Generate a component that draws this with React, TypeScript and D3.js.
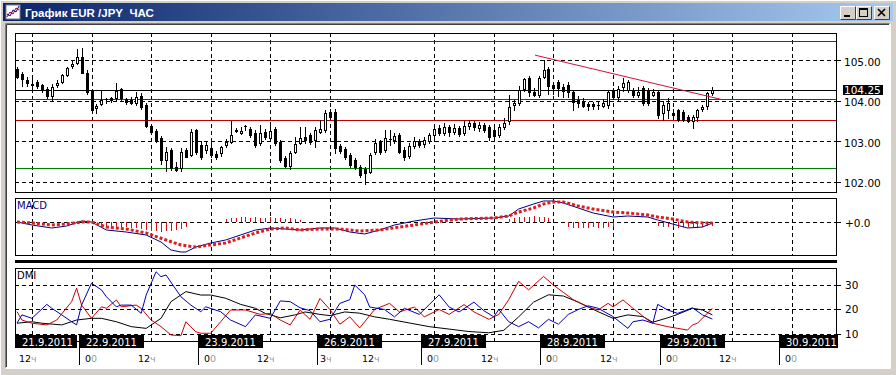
import React from 'react'
import * as d3 from 'd3'

// EUR/JPY, H1 bars from 21.9.2011 09:00 to 29.9.2011 08:00 (weekend skipped)
const opens = [
  104.78, 104.66, 104.5, 104.41, 104.46, 104.38, 104.28, 104.11, 104.38, 104.46,
  104.63, 104.85, 104.92, 105.08, 104.69, 104.24, 103.81, 103.91, 104.03, 104.06,
  104.06, 104.28, 104.04, 104.01, 103.95, 104.11, 103.89, 103.37, 103.25, 103.07,
  102.53, 102.78, 102.37, 102.33, 102.78, 102.65, 103.27, 102.9, 102.78, 102.83,
  102.68, 102.7, 102.9, 102.98, 103.27, 103.2, 103.37, 103.3, 103.2, 102.95,
  103.23, 103.07, 103.3, 102.98, 102.58, 102.38, 102.72, 102.96, 103.1, 103.15,
  103.02, 103.22, 103.27, 103.72, 103.72, 102.88, 102.8, 102.65, 102.53, 102.36,
  102.3, 102.24, 102.73, 102.98, 102.78, 103.05, 103.03, 103.15, 102.78, 102.62,
  102.88, 103.0, 102.92, 103.0, 103.15, 103.32, 103.2, 103.35, 103.22, 103.32,
  103.2, 103.38, 103.45, 103.32, 103.4, 103.35, 103.27, 103.15, 103.35, 103.5,
  103.89, 103.94, 104.28, 104.56, 104.22, 104.14, 104.59, 104.78, 104.38, 104.46,
  104.33, 104.38, 104.22, 104.01, 103.97, 103.91, 103.92, 103.88, 103.87, 103.89,
  104.26, 104.09, 104.33, 104.26, 104.26, 104.14, 104.31, 104.26, 104.14, 104.22,
  103.69, 103.77, 103.7, 103.77, 103.72, 103.6, 103.5, 103.6, 103.79, 103.86,
  104.18,
]
const highs = [
  104.82, 104.7, 104.58, 104.56, 104.51, 104.41, 104.33, 104.41, 104.51, 104.66,
  104.83, 105.0, 105.27, 105.3, 104.75, 104.26, 103.91, 104.26, 104.06, 104.08,
  104.44, 104.31, 104.06, 104.08, 104.22, 104.18, 103.94, 103.4, 103.3, 103.12,
  102.86, 102.83, 102.48, 102.83, 102.83, 103.3, 103.3, 103.0, 103.0, 103.02,
  102.75, 102.88, 103.05, 103.5, 103.32, 103.35, 103.4, 103.35, 103.27, 103.4,
  103.3, 103.47, 103.35, 103.02, 102.62, 102.75, 103.1, 103.35, 103.35, 103.2,
  103.35, 103.52, 103.77, 103.8, 103.8, 102.93, 102.86, 102.7, 102.58, 102.4,
  102.36, 102.7, 103.05, 103.02, 103.27, 103.27, 103.2, 103.2, 102.85, 102.95,
  103.1, 103.05, 103.1, 103.2, 103.38, 103.4, 103.45, 103.4, 103.42, 103.38,
  103.5, 103.52, 103.5, 103.47, 103.45, 103.4, 103.32, 103.42, 103.57, 104.14,
  104.01, 104.36, 104.56, 104.6, 104.31, 104.6, 105.0, 104.82, 104.46, 104.51,
  104.4, 104.45, 104.26, 104.1, 104.05, 103.97, 103.97, 103.99, 104.04, 104.27,
  104.3, 104.36, 104.55, 104.5, 104.3, 104.33, 104.36, 104.31, 104.28, 104.26,
  103.99, 104.05, 103.78, 103.8, 103.77, 103.65, 103.65, 103.8, 103.89, 104.22,
  104.34,
]
const lows = [
  104.55, 104.36, 104.36, 104.26, 104.31, 104.21, 104.06, 104.01, 104.33, 104.43,
  104.6, 104.8, 104.9, 104.67, 104.15, 103.69, 103.69, 103.88, 103.94, 103.97,
  104.01, 104.01, 103.92, 103.92, 103.9, 103.8, 103.35, 103.2, 102.98, 102.43,
  102.27, 102.28, 102.25, 102.27, 102.6, 102.62, 102.68, 102.55, 102.7, 102.6,
  102.55, 102.62, 102.85, 102.96, 103.22, 103.18, 103.27, 103.1, 102.85, 102.9,
  103.05, 103.02, 102.9, 102.48, 102.35, 102.32, 102.7, 102.93, 102.96, 102.93,
  102.85, 103.2, 103.22, 103.55, 102.7, 102.7, 102.55, 102.35, 102.3, 102.12,
  101.94, 102.2, 102.68, 102.68, 102.73, 102.9, 102.96, 102.7, 102.52, 102.58,
  102.82, 102.85, 102.86, 102.95, 103.1, 103.15, 103.15, 103.12, 103.18, 103.12,
  103.15, 103.3, 103.28, 103.25, 103.22, 103.02, 103.07, 103.1, 103.3, 103.42,
  103.77, 103.9, 104.23, 104.11, 104.11, 104.08, 104.55, 104.16, 104.16, 104.11,
  104.08, 104.08, 103.77, 103.85, 103.83, 103.77, 103.79, 103.8, 103.84, 103.82,
  104.04, 103.99, 104.24, 104.22, 104.09, 104.09, 103.89, 103.88, 104.1, 103.56,
  103.52, 103.58, 103.62, 103.5, 103.5, 103.47, 103.32, 103.5, 103.74, 103.8,
  104.13,
]
const closes = [
  104.58, 104.53, 104.43, 104.38, 104.36, 104.26, 104.11, 104.34, 104.44, 104.63,
  104.8, 104.9, 105.08, 104.69, 104.22, 103.77, 103.86, 104.01, 104.04, 104.01,
  104.24, 104.06, 103.97, 103.95, 104.09, 103.85, 103.37, 103.23, 103.02, 102.53,
  102.74, 102.33, 102.28, 102.74, 102.61, 103.23, 102.74, 102.6, 102.9, 102.65,
  102.6, 102.86, 102.98, 103.15, 103.25, 103.25, 103.38, 103.15, 102.9, 103.2,
  103.1, 103.25, 102.95, 102.53, 102.38, 102.7, 102.93, 103.07, 103.02, 102.98,
  103.27, 103.29, 103.7, 103.6, 102.83, 102.75, 102.61, 102.41, 102.36, 102.16,
  102.2, 102.65, 102.95, 102.73, 103.07, 103.06, 103.12, 102.74, 102.6, 102.88,
  103.0, 102.9, 103.02, 103.15, 103.3, 103.2, 103.35, 103.22, 103.32, 103.18,
  103.38, 103.45, 103.35, 103.4, 103.27, 103.1, 103.12, 103.35, 103.45, 103.84,
  103.95, 104.26, 104.53, 104.22, 104.14, 104.56, 104.75, 104.36, 104.31, 104.31,
  104.24, 104.22, 103.97, 103.94, 103.86, 103.87, 103.86, 103.9, 103.93, 104.22,
  104.09, 104.28, 104.43, 104.46, 104.14, 104.22, 103.94, 103.95, 104.2, 103.64,
  103.89, 103.94, 103.64, 103.52, 103.52, 103.5, 103.6, 103.77, 103.85, 104.19,
  104.26,
]

// horizontal levels drawn on the chart
const redLevels = [105.46, 104.03, 103.52]
const greenLevels = [102.33]
const bidPrice = 104.25
const trendLine: [number, number][] = [[104.3, 105.12], [142, 104.02]]
const priceTicks = [102, 103, 104, 105]

// MACD [bar, value]
const macdMain: [number, number][] = [
  [0, 0], [3, -0.03], [7, -0.06], [10, -0.04], [13, 0.01], [15, 0], [18, -0.08], [22, -0.1],
  [26, -0.13], [29, -0.2], [31, -0.28], [33, -0.3], [34, -0.3], [36, -0.25], [39, -0.21],
  [42, -0.18], [45, -0.13], [48, -0.08], [51, -0.06], [54, -0.07], [57, -0.08], [61, -0.06],
  [64, -0.06], [67, -0.1], [70, -0.12], [73, -0.08], [76, -0.03], [80, 0.01], [84, 0.04],
  [89, 0.03], [96, 0.04], [99, 0.06], [101, 0.13], [104, 0.18], [106, 0.21], [108, 0.21],
  [110, 0.19], [113, 0.14], [116, 0.09], [120, 0.05], [123, 0.06], [127, 0.05], [129, 0.02],
  [132, -0.02], [135, -0.06], [138, -0.05], [140, -0.01],
]
const macdSignal: [number, number][] = [
  [0, 0], [3, -0.01], [7, -0.03], [10, -0.02], [13, 0], [15, 0], [18, -0.05], [22, -0.07],
  [26, -0.11], [30, -0.18], [33, -0.23], [36, -0.25], [39, -0.23], [42, -0.21], [45, -0.16],
  [48, -0.11], [51, -0.07], [54, -0.06], [57, -0.08], [61, -0.07], [65, -0.07], [69, -0.09],
  [73, -0.08], [77, -0.05], [80, -0.03], [84, 0], [89, 0.03], [96, 0.04], [99, 0.06],
  [101, 0.1], [104, 0.14], [106, 0.18], [108, 0.2], [110, 0.2], [113, 0.16], [116, 0.13],
  [120, 0.1], [123, 0.09], [127, 0.07], [129, 0.05], [132, 0.03], [135, 0], [138, -0.01],
  [140, -0.01],
]
const macdHist = [
  0, 0, 0, 0, 0, 0, 0, 0, 0, 0, 0, 0, 0, 0, 0, 0, 0,
  -0.04, -0.05, -0.05, -0.06, -0.05, -0.05, -0.06, -0.06, -0.07,
  -0.08, -0.09, -0.09, -0.1, -0.09, -0.09, -0.08, -0.07, -0.05,
  0, 0, 0, 0, 0, 0, 0,
  0.03, 0.04, 0.04, 0.05, 0.05, 0.04, 0.05, 0.04, 0.04, 0.05, 0.04, 0.04, 0.03, 0.04, 0.03, 0.02,
  0, 0, 0, 0, 0, 0, 0, 0, 0, 0, 0, 0, 0, 0, 0, 0, 0, 0, 0, 0, 0,
  0, 0, 0, 0, 0, 0, 0, 0, 0, 0, 0, 0, 0, 0, 0, 0, 0, 0, 0, 0,
  0.03, 0.04, 0.05, 0.05, 0.05, 0.06, 0.05, 0.05, 0.04,
  0, 0, 0,
  -0.05, -0.06, -0.06, -0.06, -0.06, -0.05, -0.06, -0.06, -0.05, -0.05,
  0, 0, 0, 0, 0, 0, 0, 0,
  -0.04, -0.05, -0.05, -0.05, -0.06, -0.05, -0.05, -0.05, -0.06, -0.05, -0.04, -0.04,
]

// DMI [bar, value]
const plusDI: [number, number][] = [
  [0, 14.5], [1, 17.8], [3, 16.4], [6, 22.1], [7, 20.5], [9, 17.8], [11, 15], [12, 13.7], [13, 21.8],
  [15, 30.7], [17, 28], [18, 25.2], [20, 21.1], [21, 21.8], [23, 21.8], [25, 18.4], [26, 25.9],
  [28, 35.4], [29, 33.4], [30, 34.1], [33, 25.2], [35, 21.8], [37, 19.1], [38, 21.1], [41, 19.1],
  [43, 15.7], [46, 13], [48, 17.8], [51, 16.4], [53, 23.5], [55, 23.2], [57, 20.7], [59, 19.5],
  [61, 15], [63, 16], [65, 22.5], [67, 24], [68, 30], [70, 26], [71, 21], [74, 20], [76, 17],
  [78, 20.5], [81, 18], [83, 22], [85, 26], [87, 21], [89, 19], [92, 23], [94, 19.5], [96, 17],
  [97, 20], [99, 15], [101, 13], [103, 15], [105, 12.5], [107, 16], [109, 14], [111, 18],
  [113, 20], [115, 21.5], [117, 20.5], [120, 17.1], [123, 12.3], [124, 15], [126, 15.7],
  [128, 14.4], [129, 22.1], [131, 19.8], [133, 18.4], [136, 20.7], [138, 17.8], [140, 16.1],
]
const minusDI: [number, number][] = [
  [0, 19.1], [1, 15.7], [3, 14.4], [6, 13.7], [8, 15.7], [11, 23.2], [12, 28.7], [13, 21.8],
  [15, 16.4], [17, 21.1], [18, 20.5], [20, 23.9], [21, 21.1], [24, 21.8], [25, 20.5], [27, 15.7],
  [29, 13], [31, 9.6], [33, 9.3], [34, 15], [36, 10.9], [37, 10.3], [39, 10.3], [41, 15],
  [43, 19.8], [46, 19.8], [49, 18], [51, 18.4], [53, 15.7], [55, 13.7], [57, 19.8], [59, 16],
  [61, 24.5], [63, 20], [65, 14], [67, 17], [69, 12.5], [70, 15], [72, 20], [75, 22.5], [77, 19],
  [80, 21], [82, 17], [85, 20], [87, 18], [90, 22], [92, 19], [95, 16], [97, 18], [99, 24],
  [101, 31.5], [103, 28], [106, 33.5], [108, 30], [110, 27], [112, 24], [115, 21], [117, 19.8],
  [119, 22.5], [120, 21.1], [122, 23.9], [124, 20.5], [127, 15.7], [128, 14.4], [131, 13],
  [133, 12.3], [135, 11.6], [136, 13.7], [137, 14.4], [140, 20.5],
]
const adx: [number, number][] = [
  [0, 14.4], [3, 15], [5, 14.4], [9, 13.7], [12, 15.7], [15, 16.4], [17, 16.4], [20, 15],
  [23, 13], [26, 12.3], [29, 16.4], [31, 23.2], [34, 27.3], [37, 25.9], [39, 25.9], [42, 24.6],
  [45, 22.1], [48, 20.5], [50, 18.4], [53, 16.6], [56, 17.8], [58, 19], [61, 18], [63, 17.5],
  [66, 19], [69, 18.5], [72, 17], [75, 16], [79, 14.5], [83, 13], [87, 12], [91, 11], [95, 10.5],
  [98, 11.5], [101, 17], [104, 23], [107, 26], [110, 25.5], [113, 23], [117, 19.1], [120, 16.4],
  [123, 17.8], [126, 17.1], [128, 14.8], [131, 16.6], [133, 18], [136, 20.5], [138, 19.8],
  [140, 17.8],
]
const dmiTicks = [10, 20, 30]

// time axis
const gridBars = [3, 15, 27, 39, 51, 63, 84, 96, 108, 120, 132, 144, 156]
const hourBars = [3, 15, 27, 39, 51, 63, 72, 84, 96, 108, 120, 132, 144, 156]
const hourLabels = ['12ч', '00', '12ч', '00', '12ч', '3ч', '12ч', '00', '12ч', '00', '12ч', '00', '12ч', '00']
const dayBars = [15, 39, 63, 84, 108, 132, 156]
const dayLabels = ['22.9.2011', '23.9.2011', '26.9.2011', '27.9.2011', '28.9.2011', '29.9.2011', '30.9.2011']
const firstDay = '21.9.2011'

const FONT = 'DejaVu Sans, sans-serif'

export default function App() {
  const L = 15
  const R = 836
  const main = { top: 33, bottom: 192 }
  const mp = { top: 198, bottom: 255 }
  const dp = { top: 268, bottom: 341 }

  const x = d3.scaleLinear().domain([0, 165]).range([17, 17 + 165 * 4.967])
  const y = d3.scaleLinear().domain([101.741, 105.667]).range([main.bottom, main.top])
  const ym = d3.scaleLinear().domain([-0.33, 0.24]).range([mp.bottom, mp.top])
  const yd = d3.scaleLinear().domain([7.14, 36.94]).range([dp.bottom, dp.top])
  const h = (v: number) => Math.round(v) + 0.5

  const macdLine = d3.line<[number, number]>().x(d => x(d[0])).y(d => ym(d[1]))
  const dmiLine = d3.line<[number, number]>().x(d => x(d[0])).y(d => yd(d[1]))
  const dash = '4,3'

  const vGrid = (top: number, bottom: number) =>
    gridBars.map(b => (
      <line key={b} x1={h(x(b))} x2={h(x(b))} y1={top} y2={bottom} stroke="#000" strokeDasharray={dash} />
    ))

  const bidY = h(y(bidPrice))

  return (
    <svg width={896} height={375} style={{ position: 'absolute', left: 0, top: 0 }} fontFamily={FONT}>
      <defs>
        <linearGradient id="title" x1="0" x2="1" y1="0" y2="0">
          <stop offset="0" stopColor="#0a246a" />
          <stop offset="1" stopColor="#a6caf0" />
        </linearGradient>
        <clipPath id="cMain"><rect x={L} y={main.top} width={R - L} height={main.bottom - main.top} /></clipPath>
        <clipPath id="cMacd"><rect x={L} y={mp.top} width={R - L} height={mp.bottom - mp.top} /></clipPath>
        <clipPath id="cDmi"><rect x={L} y={dp.top} width={R - L} height={dp.bottom - dp.top} /></clipPath>
      </defs>

      {/* window frame */}
      <rect width={896} height={375} fill="#d4d0c8" />
      <line x1={0} x2={896} y1={0.5} y2={0.5} stroke="#fff" />
      <line x1={0.5} x2={0.5} y1={0} y2={375} stroke="#fff" />
      <rect x={3} y={3} width={890} height={18} fill="url(#title)" />
      <rect x={6} y={5} width={14} height={14} fill="#fff" stroke="#808080" />
      <polyline points="7,17 10,12 13,14 16,8 19,10" fill="none" stroke="#c00000" />
      <polyline points="7,14 10,16 13,10 16,12 19,6" fill="none" stroke="#0000a0" />
      <text x={25} y={16.5} fill="#fff" fontSize={11.5} fontWeight="bold" fontFamily="Liberation Sans, Arial, sans-serif" style={{ whiteSpace: 'pre' }}>
        {'График EUR /JPY\u00a0 ЧАС'}
      </text>
      {[840, 856, 874].map((bx, i) => (
        <g key={bx}>
          <rect x={bx} y={6} width={16} height={14} fill="#d4d0c8" />
          <path d={`M${bx + 0.5},${19.5}V${6.5}H${bx + 15.5}`} fill="none" stroke="#fff" />
          <path d={`M${bx + 0.5},${19.5}H${bx + 15.5}V${6.5}`} fill="none" stroke="#404040" />
          {i === 0 && <rect x={bx + 4} y={15} width={6} height={2} fill="#000" />}
          {i === 1 && <rect x={bx + 3.5} y={8.5} width={8} height={8} fill="none" stroke="#000" />}
          {i === 1 && <line x1={bx + 3.5} x2={bx + 11.5} y1={9.5} y2={9.5} stroke="#000" />}
          {i === 2 && <path d={`M${bx + 4},${9}L${bx + 11},${16}M${bx + 11},${9}L${bx + 4},${16}`} stroke="#000" strokeWidth={1.6} />}
        </g>
      ))}
      <rect x={6} y={24} width={884} height={344} fill="#fff" />
      <path d="M5.5,367.5V23.5H889.5" fill="none" stroke="#808080" />
      <path d="M6.5,367V24.5H889" fill="none" stroke="#404040" />
      <path d="M5.5,368.5H890.5V23.5" fill="none" stroke="#fff" />

      {/* ===== main price panel ===== */}
      <g>
        {vGrid(main.top, main.bottom)}
        {priceTicks.map(p => (
          <g key={p}>
            <line x1={L} x2={R + 5} y1={h(y(p))} y2={h(y(p))} stroke="#000" strokeDasharray={dash} />
            <line x1={R} x2={R + 5} y1={h(y(p))} y2={h(y(p))} stroke="#000" />
            <text x={844} y={y(p) + 5.5} fontSize={10.5} fill="#000">{p.toFixed(2)}</text>
          </g>
        ))}
        {redLevels.map(p => (
          <line key={p} x1={L} x2={R} y1={h(y(p))} y2={h(y(p))} stroke="#c00000" />
        ))}
        {greenLevels.map(p => (
          <line key={p} x1={L} x2={R} y1={h(y(p))} y2={h(y(p))} stroke="#008000" />
        ))}
        <line x1={L} x2={R} y1={bidY} y2={bidY} stroke="#000" />
        <g clipPath="url(#cMain)">
          {opens.map((o, i) => {
            const c = closes[i]
            const cx = Math.round(x(i))
            const top = Math.round(y(Math.max(o, c)))
            const bot = Math.round(y(Math.min(o, c)))
            return (
              <g key={i}>
                <line x1={cx + 0.5} x2={cx + 0.5} y1={Math.round(y(highs[i]))} y2={Math.round(y(lows[i])) + 1} stroke="#000" />
                {bot - top < 1 ? (
                  <line x1={cx - 1} x2={cx + 2} y1={top + 0.5} y2={top + 0.5} stroke="#000" />
                ) : (
                  <rect x={cx - 0.5} y={top + 0.5} width={2} height={bot - top} fill={c >= o ? '#fff' : '#000'} stroke="#000" />
                )}
              </g>
            )
          })}
          <line
            x1={x(trendLine[0][0])} y1={y(trendLine[0][1])}
            x2={x(trendLine[1][0])} y2={y(trendLine[1][1])}
            stroke="#d0103a"
          />
        </g>
        <rect x={843} y={bidY - 5.5} width={40} height={10} fill="#000" />
        <text x={844} y={bidY + 3.5} fontSize={10.5} fill="#fff">{bidPrice.toFixed(2)}</text>
        <rect x={L + 0.5} y={main.top + 0.5} width={R - L} height={main.bottom - main.top} fill="none" stroke="#000" />
      </g>

      {/* ===== MACD panel ===== */}
      <g>
        {vGrid(mp.top, mp.bottom)}
        <line x1={L} x2={R + 5} y1={h(ym(0))} y2={h(ym(0))} stroke="#000" strokeDasharray={dash} />
        <line x1={R} x2={R + 5} y1={h(ym(0))} y2={h(ym(0))} stroke="#000" />
        <text x={845} y={ym(0) + 5} fontSize={10.5} fill="#000">+0.0</text>
        <g clipPath="url(#cMacd)">
          {macdHist.map((v, i) =>
            v === 0 ? null : (
              <line key={i} x1={h(x(i))} x2={h(x(i))} y1={ym(0)} y2={ym(v)} stroke="#d01010" />
            )
          )}
          <path d={macdLine(macdMain) || ''} fill="none" stroke="#000080" />
          <path d={macdLine(macdSignal) || ''} fill="none" stroke="#dc1e1e" strokeWidth={3} strokeDasharray="3,2" />
        </g>
        <text x={17} y={209} fontSize={10} fill="#000080">MACD</text>
        <rect x={L + 0.5} y={mp.top + 0.5} width={R - L} height={mp.bottom - mp.top} fill="none" stroke="#000" />
      </g>

      <rect x={L} y={260} width={R - L + 1} height={3} fill="#000" />

      {/* ===== DMI panel ===== */}
      <g>
        {vGrid(dp.top, dp.bottom + 4)}
        {dmiTicks.map(t => (
          <g key={t}>
            <line x1={L} x2={R + 5} y1={h(yd(t))} y2={h(yd(t))} stroke="#000" strokeDasharray={dash} />
            <line x1={R} x2={R + 5} y1={h(yd(t))} y2={h(yd(t))} stroke="#000" />
            <text x={845} y={yd(t) + 4} fontSize={10.5} fill="#000">{t}</text>
          </g>
        ))}
        <g clipPath="url(#cDmi)">
          <path d={dmiLine(adx) || ''} fill="none" stroke="#000" />
          <path d={dmiLine(minusDI) || ''} fill="none" stroke="#c80000" />
          <path d={dmiLine(plusDI) || ''} fill="none" stroke="#0000c0" />
        </g>
        <text x={17} y={279} fontSize={10} fill="#000">DMI</text>
        <rect x={L + 0.5} y={dp.top + 0.5} width={R - L} height={dp.bottom - dp.top} fill="none" stroke="#000" />
      </g>

      {/* ===== time axis ===== */}
      <g>
        <rect x={L} y={335} width={62} height={13} fill="#000" />
        <text x={L + 7} y={345.5} fontSize={10} fill="#fff">{firstDay}</text>
        {dayBars.map((b, i) => {
          const tx = Math.round(x(b)) - 13
          const w = Math.min(65, 838 - tx)
          return (
            <g key={b}>
              <rect x={tx} y={335} width={w} height={13} fill="#000" />
              <text x={tx + 7} y={345.5} fontSize={10} fill="#fff">{dayLabels[i]}</text>
              <line x1={tx + 0.5} x2={tx + 0.5} y1={348} y2={365} stroke="#000" />
            </g>
          )
        })}
        {hourBars.map((b, i) => {
          const lab = hourLabels[i]
          const off = lab === '00' ? 7 : lab === '3ч' ? 10 : 13
          return (
            <text key={b} x={Math.round(x(b)) - off} y={362} fontSize={9.5} fill="#000">
              {lab.slice(0, -1)}
              <tspan fill="#9a9a9a">{lab.slice(-1)}</tspan>
            </text>
          )
        })}
      </g>
    </svg>
  )
}
